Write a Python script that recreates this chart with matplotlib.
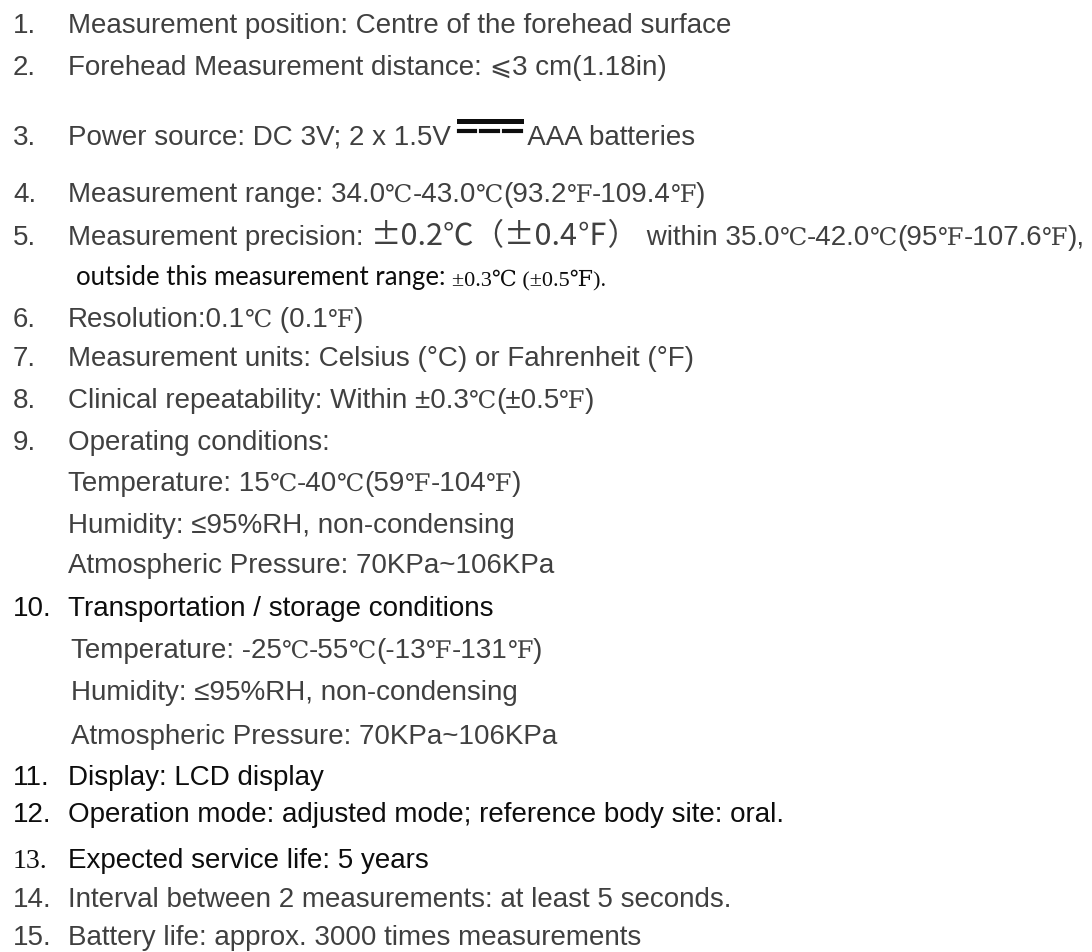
import matplotlib
matplotlib.use("Agg")
import matplotlib.pyplot as plt

W, H, DPI = 1092, 953, 100

SANS = ["Liberation Sans", "DejaVu Sans"]
SERIF = ["Liberation Serif", "DejaVu Serif", "DejaVu Sans"]
CJK = ["Noto Sans CJK SC", "DejaVu Sans"]
CALI = ["Lato", "DejaVu Sans"]
GRAY = "#404040"
BLACK = "#0d0d0d"

# style key -> (family, size in pt, colour)
STYLES = {
    "a": (SANS, 20, GRAY),
    "k": (SANS, 20, BLACK),
    "cjk": (CJK, 22, GRAY),
    "w": (SANS, 20, GRAY),
    "cal": (CALI, 18.5, BLACK),
    "cam": (SERIF, 16, BLACK),
    "le": (["DejaVu Sans"], 19, GRAY),
    "t": (SERIF, 20, BLACK),
}
UNIT_SCALE = 0.88

numbers = ["1.", "2.", "3.", "4.", "5.", "", "6.", "7.", "8.", "9.", "", "", "",
           "10.", "", "", "", "11.", "12.", "13.", "14.", "15."]
number_styles = ["a"] * 13 + ["k"] + ["a"] * 3 + ["k", "k", "t", "a", "a"]
indents = [68] * 5 + [76] + [68] * 8 + [71, 71, 71] + [68] * 5
baselines = [33, 75, 145, 202, 245, 285, 327, 366, 408, 450, 491, 533, 573,
             616, 658, 700, 744, 785, 822, 868, 907, 945]
lines = [
    [("Measurement position: Centre of the forehead surface", "a")],
    [("Forehead Measurement distance: ", "a"), ("⩽", "le"), ("3 cm(1.18in)", "a")],
    [("Power source: DC 3V; 2 x 1.5V ", "a"), ("DC", "dc"), (" AAA batteries", "a")],
    [("Measurement range: 34.0℃-43.0℃(93.2℉-109.4℉)", "a")],
    [("Measurement precision: ", "a"), ("±0.2℃（±0.4℉）", "cjk"),
     (" within 35.0℃-42.0℃(95℉-107.6℉),", "w")],
    [("outside this measurement range: ", "cal"), ("±0.3℃ (±0.5℉).", "cam")],
    [("Resolution:0.1℃ (0.1℉)", "a")],
    [("Measurement units: Celsius (°C) or Fahrenheit (°F)", "a")],
    [("Clinical repeatability: Within ±0.3℃(±0.5℉)", "a")],
    [("Operating conditions:", "a")],
    [("Temperature: 15℃-40℃(59℉-104℉)", "a")],
    [("Humidity: ≤95%RH, non-condensing", "a")],
    [("Atmospheric Pressure: 70KPa~106KPa", "a")],
    [("Transportation / storage conditions", "k")],
    [("Temperature: -25℃-55℃(-13℉-131℉)", "a")],
    [("Humidity: ≤95%RH, non-condensing", "a")],
    [("Atmospheric Pressure: 70KPa~106KPa", "a")],
    [("Display: LCD display", "k")],
    [("Operation mode: adjusted mode; reference body site: oral.", "k")],
    [("Expected service life: 5 years", "k")],
    [("Interval between 2 measurements: at least 5 seconds.", "a")],
    [("Battery life: approx. 3000 times measurements", "a")],
]

fig = plt.figure(figsize=(W / DPI, H / DPI), dpi=DPI)
fig.patch.set_facecolor("white")
renderer = fig.canvas.get_renderer()


def width_of(txt, fam, size):
    # measure with sentinels so leading/trailing spaces count
    a = fig.text(0, 0, "|" + txt + "|", family=fam, fontsize=size)
    b = fig.text(0, 0, "||", family=fam, fontsize=size)
    w = a.get_window_extent(renderer).width - b.get_window_extent(renderer).width
    a.remove()
    b.remove()
    return w


def put(x, y, txt, fam, size, col):
    fig.text(x / W, 1 - y / H, txt, family=fam, fontsize=size, color=col,
             ha="left", va="baseline")
    return x + width_of(txt, fam, size)


def split_units(txt, st):
    # degree signs in the source use a narrow serif face
    fam, size, col = STYLES[st]
    if st not in ("a", "k", "w"):
        return [(txt, fam, size, col)]
    parts, cur = [], ""
    for ch in txt:
        if ch in "℃℉":
            if cur:
                parts.append((cur, fam, size, col))
                cur = ""
            parts.append((ch, SERIF, size * UNIT_SCALE, col))
        else:
            cur += ch
    if cur:
        parts.append((cur, fam, size, col))
    return parts


def draw_dc(x, y):
    # direct-current symbol: solid bar over three dashes
    w = 62
    fig.add_artist(plt.Line2D([x / W, (x + w) / W], [1 - (y - 23) / H] * 2,
                              color=BLACK, lw=3.6, transform=fig.transFigure))
    dash = (w - 2 * 6) / 3
    for i in range(3):
        x0 = x + i * (dash + 6)
        fig.add_artist(plt.Line2D([x0 / W, (x0 + dash) / W], [1 - (y - 13) / H] * 2,
                                  color=BLACK, lw=3.0, transform=fig.transFigure))
    return x + w


for num, nst, ind, yb, runs in zip(numbers, number_styles, indents, baselines, lines):
    if num:
        fam, size, col = STYLES[nst]
        put(13, yb, num, fam, size, col)
    x = ind
    for txt, st in runs:
        if st == "dc":
            x = draw_dc(x, yb)
            continue
        for t, fam, size, col in split_units(txt, st):
            x = put(x, yb, t, fam, size, col)

fig.savefig("out.png", dpi=DPI, facecolor="white")
